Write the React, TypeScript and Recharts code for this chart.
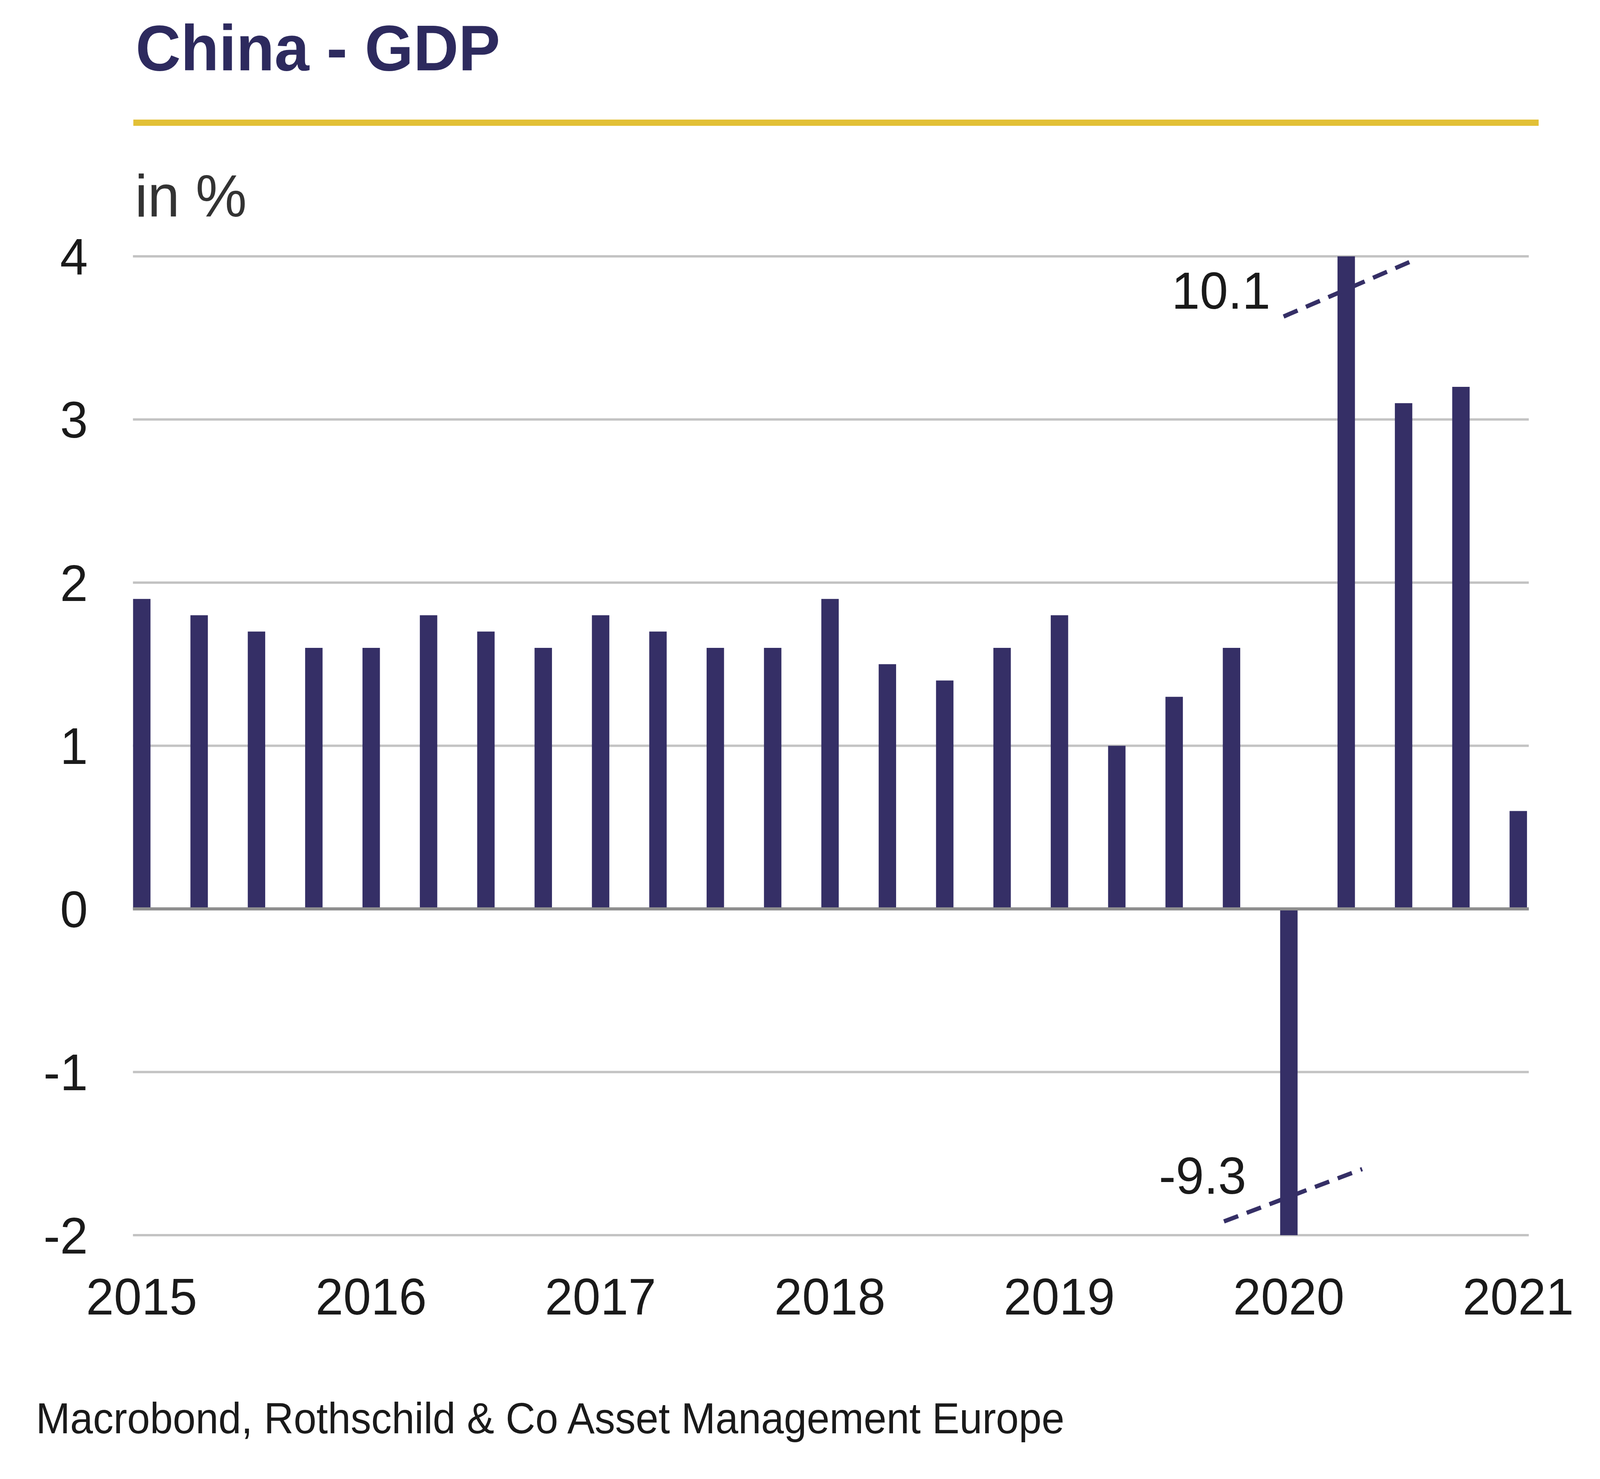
import { BarChart, Bar, XAxis, YAxis, CartesianGrid, ReferenceLine, ReferenceDot } from 'recharts'

const QUARTERS = [
  '2015Q1', '2015Q2', '2015Q3', '2015Q4',
  '2016Q1', '2016Q2', '2016Q3', '2016Q4',
  '2017Q1', '2017Q2', '2017Q3', '2017Q4',
  '2018Q1', '2018Q2', '2018Q3', '2018Q4',
  '2019Q1', '2019Q2', '2019Q3', '2019Q4',
  '2020Q1', '2020Q2', '2020Q3', '2020Q4',
  '2021Q1',
]
const GDP_QOQ = [
  1.9, 1.8, 1.7, 1.6,
  1.6, 1.8, 1.7, 1.6,
  1.8, 1.7, 1.6, 1.6,
  1.9, 1.5, 1.4, 1.6,
  1.8, 1.0, 1.3, 1.6,
  -9.3, 10.1, 3.1, 3.2,
  0.6,
]
const YEAR_TICKS = [0, 4, 8, 12, 16, 20, 24]
const YEAR_LABELS = ['2015', '2016', '2017', '2018', '2019', '2020', '2021']
const Y_TICKS = [-2, -1, 0, 1, 2, 3, 4]

const data = QUARTERS.map((q, i) => ({ idx: i, quarter: q, value: GDP_QOQ[i] }))

const NAVY = '#352f66'
const FONT = '"Liberation Sans", Arial, sans-serif'

// drawn at the reference's size, squeezed to fit the 4096px-wide viewport
const W = 4224
const H = 3785
const FIT = 4096 / W
const Y_AXIS_W = 240
const X_AXIS_H = 240

function BreakLabel({ cx, cy, text }: { cx?: number; cy?: number; text: string }) {
  return (
    <text x={cx} y={cy} textAnchor="end" fontSize={134} fontFamily={FONT} fill="#1a1a1a">
      {text}
    </text>
  )
}

export default function App() {
  return (
    <div
      style={{
        position: 'absolute',
        left: 0,
        top: 0,
        width: W,
        height: H,
        background: '#fff',
        transform: `scaleX(${FIT})`,
        transformOrigin: '0 0',
      }}
    >
      <BarChart
        width={W}
        height={H}
        data={data}
        margin={{ top: 656, right: 188, bottom: 624 - X_AXIS_H, left: 351 - Y_AXIS_W }}
      >
        <CartesianGrid vertical={false} stroke="#c3c3c3" strokeWidth={6} />
        <XAxis
          type="number"
          dataKey="idx"
          domain={[-0.152, 24.185]}
          ticks={YEAR_TICKS}
          interval={0}
          tickFormatter={(v) => YEAR_LABELS[YEAR_TICKS.indexOf(v)]}
          axisLine={false}
          tickLine={false}
          tickSize={0}
          tickMargin={109}
          height={X_AXIS_H}
          tick={{ fontSize: 132, fontFamily: FONT, fill: '#1a1a1a' }}
        />
        <YAxis
          domain={[-2, 4]}
          ticks={Y_TICKS}
          interval={0}
          allowDataOverflow
          axisLine={false}
          tickLine={false}
          tickSize={0}
          tickMargin={119}
          width={Y_AXIS_W}
          tick={{ fontSize: 132, fontFamily: FONT, fill: '#1a1a1a' }}
        />
        <ReferenceLine y={0} stroke="#8e8e8e" strokeWidth={8} />
        <Bar dataKey="value" fill={NAVY} barSize={46} isAnimationActive={false} />
        <ReferenceLine
          segment={[{ x: 19.91, y: 3.631 }, { x: 22.21, y: 3.981 }]}
          stroke={NAVY}
          strokeWidth={11}
          strokeDasharray="40 24"
        />
        <ReferenceLine
          segment={[{ x: 18.87, y: -1.916 }, { x: 21.28, y: -1.595 }]}
          stroke={NAVY}
          strokeWidth={11}
          strokeDasharray="40 24"
        />
        <ReferenceDot x={19.68} y={3.679} r={0} shape={(p: any) => <BreakLabel cx={p.cx} cy={p.cy} text="10.1" />} />
        <ReferenceDot x={19.26} y={-1.746} r={0} shape={(p: any) => <BreakLabel cx={p.cx} cy={p.cy} text="-9.3" />} />
      </BarChart>
      <svg
        width={W}
        height={H}
        style={{ position: 'absolute', left: 0, top: 0, pointerEvents: 'none' }}
      >
        <text x={358} y={180} fontSize={165} fontWeight="bold" fontFamily={FONT} fill="#2d2a5e">
          China - GDP
        </text>
        <rect x={352} y={306} width={3710} height={16} fill="#e2c036" />
        <text x={356} y={554} fontSize={152} fontFamily={FONT} fill="#333333">
          in %
        </text>
        <text
          x={95}
          y={3668}
          fontSize={112}
          fontFamily={FONT}
          fill="#1a1a1a"
          textLength={2715}
          lengthAdjust="spacingAndGlyphs"
        >
          Macrobond, Rothschild &amp; Co Asset Management Europe
        </text>
      </svg>
    </div>
  )
}
